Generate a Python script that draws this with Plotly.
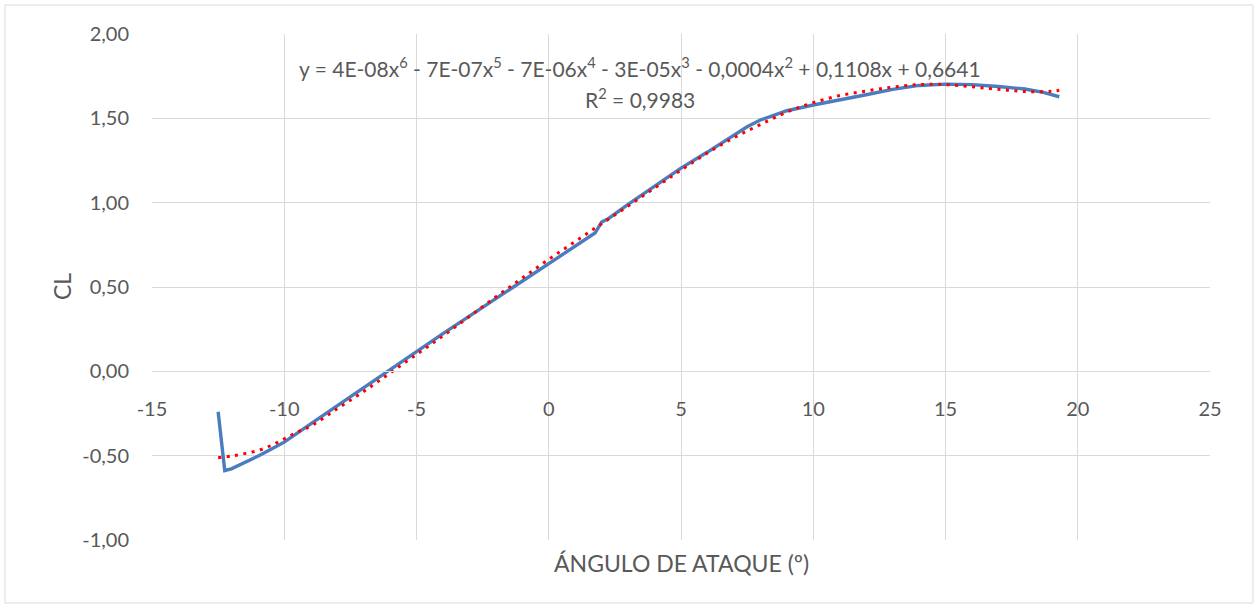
import plotly.graph_objects as go

alpha = [-12.5, -12.25, -12.0, -11.5, -11.0, -10.5, -10.0, -9.0, -8.0, -7.0, -6.0,
         -5.0, -4.0, -3.0, -2.0, -1.0, 0.0, 1.0, 1.75, 2.0, 2.25, 3.0, 4.0, 5.0,
         6.0, 7.0, 7.5, 8.0, 8.5, 9.0, 10.0, 11.0, 12.0, 13.0, 14.0, 15.0,
         15.5, 16.0, 17.0, 18.0, 18.7, 19.3]
cl = [-0.24, -0.588, -0.578, -0.543, -0.503, -0.462, -0.42, -0.312, -0.204, -0.096, 0.012,
      0.12, 0.224, 0.327, 0.431, 0.535, 0.638, 0.742, 0.82, 0.885, 0.905, 0.99, 1.097, 1.205,
      1.30, 1.40, 1.45, 1.49, 1.518, 1.545, 1.579, 1.608, 1.64, 1.672, 1.695, 1.703,
      1.704, 1.70, 1.689, 1.674, 1.654, 1.628]

# 6th-order polynomial trendline as drawn
trend_alpha = [-12.5, -12.0, -11.5, -11.0, -10.5, -10.0, -9.5, -9.0, -8.0, -7.0, -6.0,
               -5.0, -4.0, -3.0, -2.0, -1.0, 0.0, 1.0, 2.0, 3.0, 4.0, 5.0, 6.0, 7.0,
               8.0, 9.0, 10.0, 11.0, 12.0, 13.0, 14.0, 15.0, 16.0, 17.0, 18.0, 19.0, 19.3]
trend_cl = [-0.512, -0.502, -0.488, -0.47, -0.44, -0.40, -0.36, -0.325, -0.222, -0.12, -0.01,
            0.10, 0.21, 0.325, 0.441, 0.553, 0.664, 0.77, 0.875, 0.98, 1.087, 1.193, 1.295, 1.385,
            1.463, 1.537, 1.593, 1.635, 1.662, 1.685, 1.70, 1.70, 1.687, 1.672, 1.659, 1.660, 1.666]

x_tickvals = [-15, -10, -5, 0, 5, 10, 15, 20, 25]
x_ticktext = ["-15", "-10", "-5", "0", "5", "10", "15", "20", "25"]
y_tickvals = [-1.0, -0.5, 0.0, 0.5, 1.0, 1.5, 2.0]
y_ticktext = ["-1,00", "-0,50", "0,00", "0,50", "1,00", "1,50", "2,00"]

equation = ("y = 4E-08x<sup>6</sup> - 7E-07x<sup>5</sup> - 7E-06x<sup>4</sup> - 3E-05x<sup>3</sup>"
            " - 0,0004x<sup>2</sup> + 0,1108x + 0,6641")
r2_text = "R<sup>2</sup> = 0,9983"
x_title = "ÁNGULO DE ATAQUE (º)"
y_title = "CL"

FONT = "Lato"
TXT = "#595959"
GRID = "#d9d9d9"

fig = go.Figure()
fig.add_trace(go.Scatter(x=alpha, y=cl, mode="lines",
                         line=dict(color="#4a7dc0", width=3.4),
                         showlegend=False, hoverinfo="skip"))
fig.add_trace(go.Scatter(x=trend_alpha, y=trend_cl, mode="lines",
                         line=dict(color="#ff0000", width=3, dash="3px,5.5px", shape="spline"),
                         showlegend=False, hoverinfo="skip"))

fig.update_layout(
    width=1259, height=608,
    margin=dict(l=152, r=49, t=34, b=68),
    paper_bgcolor="white", plot_bgcolor="white",
    font=dict(family=FONT, size=20, color=TXT),
    xaxis=dict(range=[-15, 25], tickvals=x_tickvals, ticktext=x_ticktext,
               showgrid=True, gridcolor=GRID, gridwidth=1,
               zeroline=False, showline=True, linecolor=GRID, linewidth=1,
               anchor="free", position=1/3, ticks="", ticklabelstandoff=20,
               tickfont=dict(family=FONT, size=20, color=TXT)),
    yaxis=dict(range=[-1, 2], tickvals=y_tickvals, ticktext=y_ticktext,
               showgrid=True, gridcolor=GRID, gridwidth=1,
               zeroline=False, showline=False, ticks="", ticklabelstandoff=22,
               tickfont=dict(family=FONT, size=20, color=TXT)),
    shapes=[dict(type="rect", xref="paper", yref="paper",
                 x0=-0.139, x1=1.0406, y0=-0.1245, y1=1.0573,
                 line=dict(color=GRID, width=1), fillcolor="rgba(0,0,0,0)", layer="below")],
    annotations=[
        dict(text=equation, xref="paper", yref="paper", x=(640 - 152) / 1058, y=(540 - 67) / 506,
             showarrow=False, xanchor="center", yanchor="middle",
             font=dict(family=FONT, size=21, color=TXT)),
        dict(text=r2_text, xref="paper", yref="paper", x=(640 - 152) / 1058, y=(540 - 98) / 506,
             showarrow=False, xanchor="center", yanchor="middle",
             font=dict(family=FONT, size=21, color=TXT)),
        dict(text=x_title, xref="paper", yref="paper", x=0.5, y=(540 - 563) / 506,
             showarrow=False, xanchor="center", yanchor="middle",
             font=dict(family=FONT, size=23, color=TXT)),
        dict(text=y_title, xref="paper", yref="paper", x=(62 - 152) / 1058, y=0.5,
             showarrow=False, xanchor="center", yanchor="middle", textangle=-90,
             font=dict(family=FONT, size=23, color=TXT)),
    ],
)

fig.write_html("out.html")
